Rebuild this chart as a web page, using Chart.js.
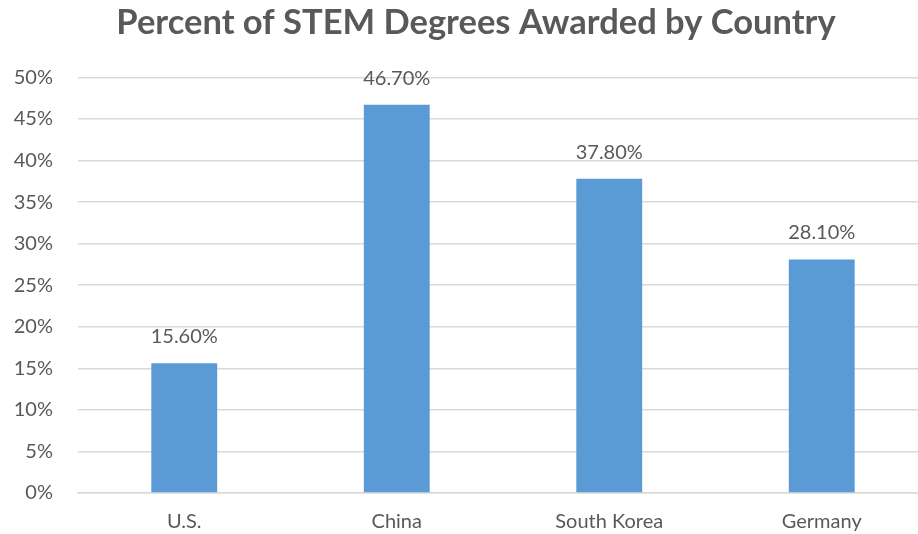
<!DOCTYPE html>
<html>
<head>
<meta charset="utf-8">
<script src="https://cdn.jsdelivr.net/npm/chart.js@4/dist/chart.umd.min.js"></script>
<style>
    html, body { margin: 0; padding: 0; background: #fff; overflow: hidden; }
    #wrap { width: 952px; height: 534px; }
</style>
</head>
<body>
<div id="wrap"><canvas id="stemChart" width="952" height="534"></canvas></div>
<script>
// Share of degrees in STEM fields, by country
const countries = ["U.S.", "China", "South Korea", "Germany"];
const stemPercent = [15.6, 46.7, 37.8, 28.1];
const yTicks = [0, 5, 10, 15, 20, 25, 30, 35, 40, 45, 50];

const textColor = "#595959";
const barColor = "#5B9BD5";

// Writes the value above each bar
const barValueLabels = {
    id: "barValueLabels",
    afterDatasetsDraw(chart) {
        const ctx = chart.ctx;
        const meta = chart.getDatasetMeta(0);
        ctx.save();
        ctx.font = "20px Lato";
        ctx.fillStyle = textColor;
        ctx.textAlign = "center";
        ctx.textBaseline = "alphabetic";
        meta.data.forEach((bar, i) => {
            const value = chart.data.datasets[0].data[i];
            ctx.fillText(value.toFixed(2) + "%", bar.x, bar.y - 20);
        });
        ctx.restore();
    },
};

const stemCtx = document.getElementById("stemChart").getContext("2d");
new Chart(stemCtx, {
    type: "bar",
    data: {
        labels: countries,
        datasets: [
            {
                data: stemPercent,
                backgroundColor: barColor,
                borderWidth: 0,
                barPercentage: 1,
                categoryPercentage: 0.31,
            },
        ],
    },
    options: {
        responsive: false,
        animation: false,
        layout: {
            padding: 0,
        },
        plugins: {
            legend: { display: false },
            tooltip: { enabled: false },
            title: {
                display: true,
                text: "Percent of STEM Degrees Awarded by Country",
                color: textColor,
                font: { family: "Lato", size: 34.5, weight: "bold" },
                padding: { top: 2, bottom: 34 },
            },
        },
        scales: {
            y: {
                min: 0,
                max: 50,
                afterBuildTicks: function (scale) {
                    scale.ticks = yTicks.map((v) => ({ value: v }));
                },
                afterFit: function (scale) {
                    scale.width = 78;
                },
                border: { display: false },
                grid: {
                    color: "#d9d9d9",
                    lineWidth: 1.5,
                    drawTicks: false,
                },
                ticks: {
                    padding: 25,
                    color: textColor,
                    font: { family: "Lato", size: 20 },
                    callback: function (value) {
                        return value + "%";
                    },
                },
            },
            // empty strip on the right so the plot stops short of the edge
            yRight: {
                position: "right",
                afterFit: function (scale) {
                    scale.width = 24;
                },
                border: { display: false },
                grid: { display: false, drawTicks: false },
                ticks: { display: false },
            },
            x: {
                afterFit: function (scale) {
                    scale.height = 41;
                },
                border: { color: "#d9d9d9", width: 1.5 },
                grid: { display: false, drawTicks: false },
                ticks: {
                    padding: 17,
                    color: textColor,
                    font: { family: "Lato", size: 20 },
                },
            },
        },
    },
    plugins: [barValueLabels],
});
</script>
</body>
</html>
